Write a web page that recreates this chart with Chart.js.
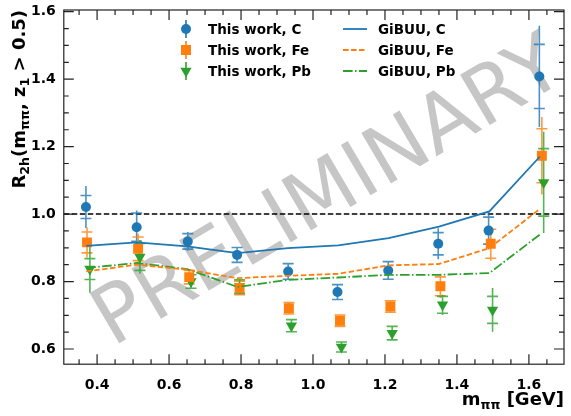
<!DOCTYPE html>
<html lang="en">
<head>
<meta charset="UTF-8">
<title>R2h vs m_pipi</title>
<script src="https://cdn.jsdelivr.net/npm/chart.js"></script>
<style>
    html, body { margin: 0; padding: 0; background: #fff; }
    #wrap { width: 571px; height: 416px; }
</style>
</head>
<body>
<div id="wrap"><canvas id="chart" width="571" height="416"></canvas></div>
<script>
// axis ticks
const xTicks = [0.4, 0.6, 0.8, 1.0, 1.2, 1.4, 1.6];
const yTicks = [0.6, 0.8, 1.0, 1.2, 1.4, 1.6];

// measured points (x = mean m_pipi in bin)
const xC  = [0.369, 0.510, 0.652, 0.789, 0.931, 1.068, 1.209, 1.348, 1.488, 1.629];
const yC  = [1.021, 0.961, 0.919, 0.879, 0.830, 0.769, 0.833, 0.912, 0.951, 1.408];
const capC  = [0.034, 0.042, 0.023, 0.022, 0.023, 0.022, 0.026, 0.033, 0.040, 0.095];
const lineC = [0.062, 0.050, 0.028, 0.024, 0.025, 0.024, 0.028, 0.046, 0.056, 0.150];

const xFe = [0.372, 0.514, 0.656, 0.796, 0.933, 1.075, 1.215, 1.354, 1.494, 1.636];
const yFe = [0.916, 0.897, 0.813, 0.781, 0.721, 0.684, 0.726, 0.786, 0.912, 1.173];
const capFe  = [0.031, 0.035, 0.020, 0.020, 0.017, 0.017, 0.017, 0.028, 0.043, 0.080];
const lineFe = [0.045, 0.045, 0.022, 0.022, 0.018, 0.018, 0.018, 0.035, 0.050, 0.115];

const xPb = [0.380, 0.519, 0.661, 0.796, 0.940, 1.079, 1.220, 1.360, 1.499, 1.641];
const yPb = [0.837, 0.873, 0.800, 0.785, 0.669, 0.606, 0.647, 0.731, 0.716, 1.094];
const capPb  = [0.031, 0.040, 0.020, 0.020, 0.018, 0.015, 0.020, 0.025, 0.040, 0.100];
const linePb = [0.070, 0.050, 0.022, 0.022, 0.020, 0.016, 0.022, 0.030, 0.065, 0.150];

// GiBUU curves
const xGibuu  = [0.37, 0.51, 0.65, 0.79, 0.93, 1.07, 1.21, 1.35, 1.49, 1.63];
const gibuuC  = [0.906, 0.916, 0.904, 0.884, 0.899, 0.907, 0.929, 0.963, 1.008, 1.170];
const gibuuFe = [0.830, 0.850, 0.835, 0.810, 0.817, 0.823, 0.848, 0.852, 0.899, 1.015];
const gibuuPb = [0.840, 0.855, 0.837, 0.784, 0.805, 0.812, 0.820, 0.820, 0.825, 0.939];

const blue = '#1f77b4', orange = '#ff7f0e', green = '#2ca02c';
const FONT = '"DejaVu Sans", sans-serif';

function pts(xs, ys) {
    return xs.map((x, i) => ({ x: x, y: ys[i] }));
}

function drawRich(ctx, parts, size) {
    // parts: [text, isSub]; draws from (0,0) baseline, returns width
    let x = 0;
    parts.forEach(p => {
        ctx.font = 'bold ' + (p[1] ? size * 0.7 : size) + 'px ' + FONT;
        ctx.fillText(p[0], x, p[1] ? size * 0.22 : 0);
        x += ctx.measureText(p[0]).width;
    });
    return x;
}
function richWidth(ctx, parts, size) {
    let w = 0;
    parts.forEach(p => {
        ctx.font = 'bold ' + (p[1] ? size * 0.7 : size) + 'px ' + FONT;
        w += ctx.measureText(p[0]).width;
    });
    return w;
}

const decor = {
    id: 'decor',
    beforeDatasetsDraw(chart) {
        const ctx = chart.ctx, a = chart.chartArea;
        const xs = chart.scales.x, ys = chart.scales.y;
        // watermark
        ctx.save();
        ctx.translate(330, 195);
        ctx.rotate(-30.5 * Math.PI / 180);
        ctx.font = '80px ' + FONT;
        ctx.fillStyle = '#c6c6c6';
        ctx.textAlign = 'center';
        ctx.textBaseline = 'middle';
        ctx.fillText('PRELIMINARY', 0, 0);
        ctx.restore();
        // reference line at 1
        ctx.save();
        ctx.strokeStyle = '#000';
        ctx.lineWidth = 1.5;
        ctx.setLineDash([5.5, 2.5]);
        const y1 = ys.getPixelForValue(1.0);
        ctx.beginPath();
        ctx.moveTo(a.left, y1);
        ctx.lineTo(a.right, y1);
        ctx.stroke();
        ctx.restore();
        // error bars
        chart.data.datasets.forEach(ds => {
            if (!ds.errCap) return;
            ctx.save();
            ctx.strokeStyle = ds.borderColor;
            ctx.globalAlpha = 0.8;
            ctx.lineWidth = 1.6;
            ds.data.forEach((p, i) => {
                const px = xs.getPixelForValue(p.x);
                ctx.beginPath();
                ctx.moveTo(px, ys.getPixelForValue(p.y - ds.errLine[i]));
                ctx.lineTo(px, ys.getPixelForValue(p.y + ds.errLine[i]));
                [p.y - ds.errCap[i], p.y + ds.errCap[i]].forEach(v => {
                    const py = ys.getPixelForValue(v);
                    ctx.moveTo(px - 5.5, py);
                    ctx.lineTo(px + 5.5, py);
                });
                ctx.stroke();
            });
            ctx.restore();
        });
    },
    afterDraw(chart) {
        const ctx = chart.ctx, a = chart.chartArea;
        const xs = chart.scales.x, ys = chart.scales.y;
        ctx.save();
        ctx.strokeStyle = '#222';
        ctx.lineWidth = 1.2;
        ctx.strokeRect(a.left, a.top, a.right - a.left, a.bottom - a.top);
        // inward ticks, all four sides
        ctx.beginPath();
        for (let v = 0.30; v <= 1.70001; v += 0.05) {
            const px = xs.getPixelForValue(v);
            if (px < a.left || px > a.right) continue;
            const major = Math.abs(v * 5 - Math.round(v * 5)) < 1e-6;
            const len = major ? 10 : 5;
            ctx.moveTo(px, a.bottom); ctx.lineTo(px, a.bottom - len);
            ctx.moveTo(px, a.top); ctx.lineTo(px, a.top + len);
        }
        for (let v = 0.55; v <= 1.60001; v += 0.05) {
            const py = ys.getPixelForValue(v);
            if (py < a.top - 0.5 || py > a.bottom) continue;
            const major = Math.abs(v * 5 - Math.round(v * 5)) < 1e-6;
            const len = major ? 10 : 5;
            ctx.moveTo(a.left, py); ctx.lineTo(a.left + len, py);
            ctx.moveTo(a.right, py); ctx.lineTo(a.right - len, py);
        }
        ctx.stroke();
        ctx.restore();

        // axis titles
        ctx.save();
        ctx.fillStyle = '#000';
        ctx.textBaseline = 'alphabetic';
        const xt = [['m', false], ['\u03c0\u03c0', true], [' [GeV]', false]];
        const wx = richWidth(ctx, xt, 18);
        ctx.translate(a.right - wx, 405);
        drawRich(ctx, xt, 18);
        ctx.restore();

        ctx.save();
        ctx.fillStyle = '#000';
        const yt = [['R', false], ['2h', true], ['(m', false], ['\u03c0\u03c0', true],
                    [', z', false], ['1', true], [' > 0.5)', false]];
        const wy = richWidth(ctx, yt, 18);
        ctx.translate(25, a.top + wy);
        ctx.rotate(-Math.PI / 2);
        drawRich(ctx, yt, 18);
        ctx.restore();

        // legend
        ctx.save();
        ctx.font = 'bold 13.5px ' + FONT;
        ctx.fillStyle = '#000';
        ctx.textBaseline = 'middle';
        const rows = [29, 50, 71];
        const labels1 = ['This work, C', 'This work, Fe', 'This work, Pb'];
        const labels2 = ['GiBUU, C', 'GiBUU, Fe', 'GiBUU, Pb'];
        const cols = [blue, orange, green];
        const dashes = [[], [5.5, 2.5], [9.6, 2.4, 1.5, 2.4]];
        rows.forEach((ry, i) => {
            ctx.fillStyle = '#000';
            ctx.fillText(labels1[i], 208, ry + 1);
            ctx.fillText(labels2[i], 378, ry + 1);
            // marker with bar
            ctx.strokeStyle = cols[i];
            ctx.fillStyle = cols[i];
            ctx.lineWidth = 1.6;
            ctx.setLineDash([]);
            ctx.beginPath();
            ctx.moveTo(186, ry - 9); ctx.lineTo(186, ry + 9);
            ctx.stroke();
            ctx.beginPath();
            if (i === 0) {
                ctx.arc(186, ry, 5, 0, Math.PI * 2);
            } else if (i === 1) {
                ctx.rect(181, ry - 5, 10, 10);
            } else {
                ctx.moveTo(186, ry + 6.5);
                ctx.lineTo(186 - 5.6, ry - 3.2);
                ctx.lineTo(186 + 5.6, ry - 3.2);
                ctx.closePath();
            }
            ctx.fill();
            // line sample
            ctx.lineWidth = 1.8;
            ctx.setLineDash(dashes[i]);
            ctx.beginPath();
            ctx.moveTo(343, ry); ctx.lineTo(367, ry);
            ctx.stroke();
        });
        ctx.restore();
    }
};

const ctx = document.getElementById('chart').getContext('2d');
const chart = new Chart(ctx, {
    type: 'scatter',
    data: {
        datasets: [
            { label: 'GiBUU, C', type: 'line', data: pts(xGibuu, gibuuC), borderColor: blue,
              borderWidth: 1.8, pointRadius: 0, tension: 0, fill: false },
            { label: 'GiBUU, Fe', type: 'line', data: pts(xGibuu, gibuuFe), borderColor: orange,
              borderWidth: 1.8, borderDash: [5.5, 2.5], pointRadius: 0, tension: 0, fill: false },
            { label: 'GiBUU, Pb', type: 'line', data: pts(xGibuu, gibuuPb), borderColor: green,
              borderWidth: 1.8, borderDash: [9.6, 2.4, 1.5, 2.4], pointRadius: 0, tension: 0, fill: false },
            { label: 'This work, C', data: pts(xC, yC), errCap: capC, errLine: lineC,
              borderColor: blue, backgroundColor: blue, pointStyle: 'circle', pointRadius: 5, borderWidth: 0 },
            { label: 'This work, Fe', data: pts(xFe, yFe), errCap: capFe, errLine: lineFe,
              borderColor: orange, backgroundColor: orange, pointStyle: 'rect', pointRadius: 7, borderWidth: 0 },
            { label: 'This work, Pb', data: pts(xPb, yPb), errCap: capPb, errLine: linePb,
              borderColor: green, backgroundColor: green, pointStyle: 'triangle', pointRotation: 180,
              pointRadius: 6.5, borderWidth: 0 }
        ]
    },
    options: {
        responsive: false,
        animation: false,
        devicePixelRatio: 1,
        layout: { padding: { left: 23, right: 2, top: 10, bottom: 10 } },
        plugins: { legend: { display: false }, tooltip: { enabled: false } },
        scales: {
            x: {
                type: 'linear', min: 0.3075, max: 1.6975,
                afterBuildTicks: s => { s.ticks = xTicks.map(v => ({ value: v })); },
                afterFit: s => { s.paddingLeft = 0; s.paddingRight = 0; },
                grid: { display: false, drawTicks: false }, border: { display: false },
                ticks: { color: '#000', padding: 12.5, maxRotation: 0,
                         font: { family: FONT, size: 14, weight: 'bold' },
                         callback: v => v.toFixed(1) }
            },
            y: {
                type: 'linear', min: 0.555, max: 1.605,
                afterBuildTicks: s => { s.ticks = yTicks.map(v => ({ value: v })); },
                afterFit: s => { s.paddingTop = 0; s.paddingBottom = 0; },
                grid: { display: false, drawTicks: false }, border: { display: false },
                ticks: { color: '#000', padding: 8,
                         font: { family: FONT, size: 14, weight: 'bold' },
                         callback: v => v.toFixed(1) }
            }
        }
    },
    plugins: [decor]
});
</script>
</body>
</html>
